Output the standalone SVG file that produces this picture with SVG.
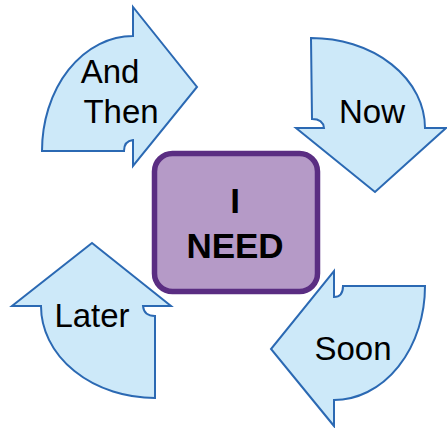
<svg xmlns="http://www.w3.org/2000/svg" width="447" height="428" viewBox="0 0 447 428">
<style>
.arr{fill:#cde9f9;stroke:#2b69b3;stroke-width:2;stroke-linejoin:miter}
.lbl{font-family:"Liberation Sans",Arial,sans-serif;font-size:33px;fill:#000;text-anchor:middle}
.ctr{font-family:"Liberation Sans",Arial,sans-serif;font-size:35px;font-weight:bold;fill:#000;text-anchor:middle}
</style>
<rect width="447" height="428" fill="#fff"/>
<g id="andthen">
<path class="arr" d="M 133 36 L 133 7 L 197 87 L 133 166 L 133 140 Q 124 141 124 151 L 42 151 A 91 115 0 0 1 133 36 Z"/>
<text class="lbl" x="110" y="83">And</text>
<text class="lbl" x="121" y="123">Then</text>
</g>
<g id="now">
<path class="arr" d="M 311 38 A 114 90 0 0 1 425 128 L 446 128 L 375 192 L 296 128 L 324 128 Q 323 119 312 119 Z"/>
<text class="lbl" x="372" y="123">Now</text>
</g>
<g id="soon">
<path class="arr" d="M 334 426 L 271 349 L 334 271 L 334 297 Q 343 297 343 286 L 425 286 A 91 114 0 0 1 334 400 Z"/>
<text class="lbl" x="353" y="360">Soon</text>
</g>
<g id="later">
<path class="arr" d="M 92 243 L 171 306 L 143 306 Q 144 316 155 316 L 155 398 A 114 92 0 0 1 41 306 L 12 306 Z"/>
<text class="lbl" x="92" y="327">Later</text>
</g>
<g id="ineed">
<rect x="154.5" y="153.5" width="163" height="138" rx="18" fill="#b59ac7" stroke="#5a2d82" stroke-width="5.5"/>
<text class="ctr" x="235" y="213">I</text>
<text class="ctr" x="235" y="258">NEED</text>
</g>
<g id="connectors"></g>
</svg>
